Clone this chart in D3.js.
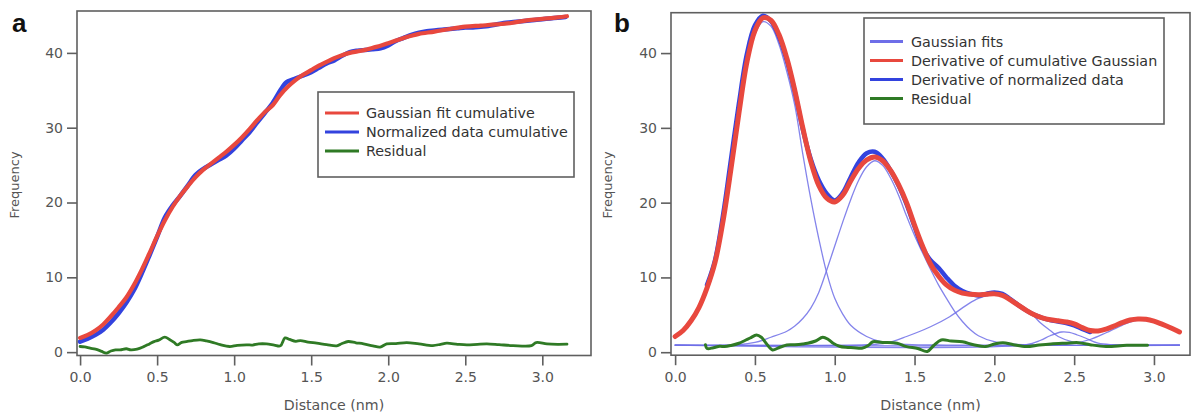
<!DOCTYPE html>
<html><head><meta charset="utf-8">
<script src="https://cdn.jsdelivr.net/npm/d3@7"></script>
<style>
html,body{margin:0;padding:0;background:#fff;}
svg{display:block;}
text{font-family:"DejaVu Sans",Verdana,sans-serif;}
</style></head>
<body>
<svg id="chart" width="1193" height="416"></svg>
<script>
// ---------- DATA ----------
const xTicks = [0.0, 0.5, 1.0, 1.5, 2.0, 2.5, 3.0];
const yTicks = [0, 10, 20, 30, 40];

// Panel a
const aFitX = [0.00,0.05,0.10,0.15,0.20,0.25,0.30,0.35,0.40,0.45,0.50,0.55,0.60,0.65,0.70,0.75,0.80,0.85,0.90,0.95,1.00,1.05,1.10,1.15,1.20,1.25,1.30,1.35,1.40,1.45,1.50,1.55,1.60,1.65,1.70,1.75,1.80,1.85,1.90,1.95,2.00,2.05,2.10,2.15,2.20,2.30,2.40,2.50,2.60,2.70,2.80,2.90,3.00,3.10,3.16];
const aFitY = [1.9,2.3,2.9,3.7,4.8,6.0,7.3,9.0,11.0,13.2,15.5,17.6,19.4,20.9,22.2,23.4,24.4,25.2,26.0,26.8,27.7,28.7,29.8,31.0,32.1,33.0,34.4,35.5,36.4,37.1,37.7,38.3,38.8,39.3,39.7,40.0,40.2,40.4,40.7,40.95,41.3,41.65,42.0,42.3,42.55,42.85,43.2,43.5,43.65,43.8,44.0,44.35,44.55,44.75,44.9];

const aDataX = [0.00,0.05,0.10,0.15,0.20,0.25,0.30,0.35,0.40,0.45,0.50,0.55,0.60,0.65,0.70,0.75,0.80,0.85,0.90,0.95,1.00,1.05,1.10,1.15,1.20,1.25,1.30,1.33,1.35,1.40,1.45,1.50,1.55,1.60,1.65,1.70,1.75,1.80,1.85,1.90,1.95,2.00,2.05,2.10,2.15,2.20,2.25,2.30,2.35,2.40,2.45,2.50,2.55,2.60,2.65,2.70,2.75,2.80,2.85,2.90,2.95,3.00,3.05,3.10,3.15];
const aDataY = [1.4,1.8,2.3,3.0,4.0,5.2,6.6,8.3,10.5,12.9,15.4,18.0,19.6,20.9,22.3,23.7,24.5,25.1,25.7,26.3,27.2,28.3,29.4,30.7,32.0,33.3,35.0,35.9,36.2,36.6,37.0,37.4,38.0,38.6,39.0,39.6,40.1,40.3,40.4,40.5,40.6,41.0,41.6,42.0,42.4,42.7,42.9,43.0,43.1,43.2,43.3,43.4,43.4,43.5,43.6,43.8,44.0,44.1,44.2,44.3,44.4,44.5,44.6,44.7,44.8];

const aResX = [0.00,0.03,0.065,0.10,0.14,0.17,0.20,0.23,0.26,0.30,0.33,0.37,0.41,0.45,0.48,0.51,0.55,0.58,0.61,0.63,0.66,0.69,0.73,0.78,0.82,0.865,0.91,0.97,1.02,1.08,1.12,1.16,1.21,1.26,1.30,1.33,1.36,1.40,1.43,1.48,1.536,1.60,1.666,1.70,1.74,1.79,1.84,1.90,1.947,1.99,2.05,2.12,2.20,2.29,2.34,2.38,2.45,2.51,2.58,2.64,2.72,2.81,2.93,2.96,3.03,3.10,3.16];
const aResY = [0.75,0.7,0.53,0.4,0.1,-0.13,0.15,0.3,0.3,0.45,0.3,0.4,0.7,1.1,1.4,1.6,2.0,1.7,1.3,0.97,1.3,1.4,1.55,1.64,1.5,1.28,1.0,0.75,0.9,0.97,0.95,1.1,1.1,0.95,0.84,1.9,1.7,1.45,1.55,1.35,1.2,1.0,0.84,1.15,1.42,1.25,1.1,0.85,0.67,1.1,1.15,1.28,1.1,0.88,1.05,1.2,1.05,0.97,1.05,1.1,1.0,0.88,0.88,1.28,1.1,1.05,1.07];

// Panel b
const bFitX = [0.00,0.05,0.10,0.15,0.20,0.25,0.30,0.35,0.40,0.45,0.50,0.55,0.60,0.65,0.70,0.75,0.80,0.85,0.90,0.95,1.00,1.05,1.10,1.15,1.20,1.25,1.30,1.35,1.40,1.45,1.50,1.55,1.60,1.65,1.70,1.75,1.80,1.85,1.90,1.95,2.00,2.05,2.10,2.15,2.20,2.25,2.30,2.35,2.40,2.45,2.50,2.55,2.60,2.65,2.70,2.75,2.80,2.85,2.90,2.95,3.00,3.05,3.10,3.16];
const bFitY = [2.1,2.9,4.2,6.0,8.6,12.0,17.5,24.5,32.0,38.8,43.0,44.7,44.4,42.5,39.3,35.0,30.0,25.5,22.3,20.6,20.1,21.0,22.9,24.6,25.7,26.1,25.6,24.3,22.4,20.0,17.0,14.2,11.8,10.2,9.0,8.3,7.9,7.75,7.7,7.75,7.8,7.6,7.0,6.3,5.6,5.0,4.6,4.35,4.2,4.05,3.8,3.3,2.9,2.85,3.1,3.5,3.95,4.3,4.45,4.4,4.15,3.75,3.3,2.7];

const bDataX = [0.20,0.25,0.30,0.35,0.40,0.45,0.50,0.55,0.60,0.65,0.70,0.75,0.80,0.85,0.90,0.95,1.00,1.05,1.10,1.15,1.20,1.25,1.30,1.35,1.40,1.45,1.50,1.55,1.60,1.65,1.70,1.75,1.80,1.85,1.90,1.95,2.00,2.05,2.10,2.15,2.20,2.25,2.30,2.35,2.40,2.45,2.50,2.55,2.60];
const bDataY = [9.0,12.3,18.3,25.8,33.3,39.9,43.7,45.0,44.3,42.2,39.0,34.8,29.8,25.8,23.0,21.2,20.3,21.3,23.4,25.4,26.6,26.8,25.9,24.3,22.3,19.8,16.8,14.0,12.3,11.3,10.0,8.9,8.2,7.8,7.6,7.8,8.0,7.8,7.1,6.3,5.6,5.0,4.6,4.3,4.1,3.9,3.6,3.1,2.7];

const g1X = [0,0.1,0.2,0.25,0.3,0.35,0.4,0.45,0.5,0.55,0.6,0.65,0.7,0.75,0.8,0.85,0.9,0.95,1.0,1.05,1.1,1.2,1.3,1.45,1.7,3.16];
const g1Y = [2.0,4.1,8.5,11.8,17.3,24.3,31.7,38.4,42.5,44.2,43.6,41.2,37.5,33.0,26.5,20.5,15.2,10.6,7.2,5.1,3.6,2.1,1.35,1.05,0.95,0.95];
const g2X = [0,0.4,0.5,0.6,0.7,0.75,0.8,0.85,0.9,0.95,1.0,1.05,1.1,1.15,1.2,1.25,1.3,1.35,1.4,1.45,1.5,1.55,1.6,1.65,1.7,1.75,1.8,1.85,1.9,2.0,2.1,3.16];
const g2Y = [0.95,1.0,1.3,2.0,2.8,3.5,4.5,5.9,8.0,11.0,14.2,17.4,20.4,23.0,24.8,25.6,25.0,23.3,21.0,18.2,15.6,13.3,11.1,9.0,7.2,5.5,4.1,3.0,2.2,1.4,1.1,0.95];
const g3X = [0,1.2,1.32,1.45,1.6,1.72,1.84,1.9,1.97,2.02,2.08,2.13,2.18,2.24,2.29,2.35,2.40,2.5,2.6,3.16];
const g3Y = [0.95,1.0,1.2,2.1,3.4,4.75,6.5,7.2,7.65,7.8,7.4,6.8,6.1,5.0,3.9,2.9,2.1,1.3,1.0,0.95];
const g4X = [0,2.2,2.29,2.35,2.42,2.47,2.52,2.57,2.65,2.75,3.16];
const g4Y = [0.95,1.0,1.6,2.2,2.7,2.65,2.3,1.9,1.2,1.0,0.95];
const g5X = [0,2.4,2.5,2.6,2.7,2.8,2.9,3.0,3.1,3.16];
const g5Y = [0.95,1.0,1.2,1.7,2.6,3.6,4.3,4.0,3.3,2.7];

const bResX = [0.19,0.20,0.24,0.28,0.31,0.35,0.40,0.44,0.47,0.51,0.54,0.57,0.61,0.65,0.70,0.75,0.80,0.83,0.88,0.925,0.96,0.99,1.03,1.07,1.12,1.17,1.21,1.24,1.30,1.39,1.45,1.52,1.58,1.62,1.667,1.73,1.80,1.87,1.946,2.00,2.054,2.12,2.20,2.28,2.355,2.44,2.527,2.60,2.70,2.83,2.96];
const bResY = [1.0,0.5,0.6,0.8,0.75,0.9,1.2,1.6,1.9,2.3,2.0,1.2,0.3,0.6,0.97,1.0,1.1,1.2,1.5,2.0,1.7,1.2,0.8,0.65,0.6,0.53,0.9,1.4,1.3,1.2,0.75,0.5,0.1,0.9,1.64,1.5,1.4,1.0,0.75,1.1,1.28,1.0,0.75,0.95,1.1,1.2,1.28,1.0,0.75,0.93,0.93];

const legendA = ["Gaussian fit cumulative","Normalized data cumulative","Residual"];
const legendB = ["Gaussian fits","Derivative of cumulative Gaussian","Derivative of normalized data","Residual"];

// ---------- STYLE ----------
const RED = "#e8483e", BLUE = "#3343de", GREEN = "#2f7a25", THIN = "#6e6ee8";
const AX = "#5f5f5f", TXT = "#555";

const svg = d3.select("#chart");
const zip = (xs, ys) => xs.map((x,i)=>[x, ys[i]]);

function panel(cfg){
  const x = d3.scaleLinear().domain(cfg.xd).range(cfg.xr);
  const y = d3.scaleLinear().domain(cfg.yd).range(cfg.yr);
  const g = svg.append("g");
  g.append("rect").attr("x", cfg.xr[0]).attr("y", cfg.yr[1])
    .attr("width", cfg.xr[1]-cfg.xr[0]).attr("height", cfg.yr[0]-cfg.yr[1])
    .attr("fill","none").attr("stroke",AX).attr("stroke-width",1.6);
  const yAx = g.append("g").attr("transform",`translate(${cfg.xr[0]},0)`)
    .call(d3.axisLeft(y).tickValues(yTicks).tickSize(10).tickPadding(4).tickFormat(d3.format("d")));
  const xAx = g.append("g").attr("transform",`translate(0,${cfg.yr[0]})`)
    .call(d3.axisBottom(x).tickValues(xTicks).tickSize(10).tickPadding(7).tickFormat(d3.format(".1f")));
  [yAx,xAx].forEach(a=>{
    a.select(".domain").remove();
    a.selectAll(".tick line").attr("stroke",AX).attr("stroke-width",1.6);
    a.selectAll(".tick text").attr("fill",TXT).style("font-size","14px").style("font-family","'DejaVu Sans',sans-serif");
  });
  g.append("text").attr("x",(cfg.xr[0]+cfg.xr[1])/2).attr("y",410)
    .attr("text-anchor","middle").attr("fill",TXT).style("font-size","14.2px").text("Distance (nm)");
  g.append("text").attr("transform",`translate(${cfg.ylabX},185) rotate(-90)`)
    .attr("text-anchor","middle").attr("fill",TXT).style("font-size","13px").text("Frequency");
  g.append("text").attr("x",cfg.letterX).attr("y",32)
    .style("font-family","'Liberation Sans',Arial,sans-serif").style("font-weight","bold")
    .style("font-size","26px").attr("fill","#111").text(cfg.letter);
  const clipId = "clip"+cfg.letter;
  g.append("clipPath").attr("id",clipId).append("rect")
    .attr("x",cfg.xr[0]).attr("y",cfg.yr[1]).attr("width",cfg.xr[1]-cfg.xr[0]).attr("height",cfg.yr[0]-cfg.yr[1]);
  const plot = g.append("g").attr("clip-path",`url(#${clipId})`);
  return {x,y,g,plot};
}

function drawLine(p, pts, color, w, curve, op){
  const line = d3.line().x(d=>p.x(d[0])).y(d=>p.y(d[1])).curve(curve||d3.curveCatmullRom.alpha(0.5));
  p.plot.append("path").datum(pts).attr("d",line).attr("fill","none")
    .attr("stroke",color).attr("stroke-width",w).attr("stroke-linejoin","round").attr("stroke-linecap","round")
    .attr("opacity", op==null?1:op);
}

function legend(g, x0, y0, w, h, items, colors, rowY, sx0, sx1, tx){
  g.append("rect").attr("x",x0).attr("y",y0).attr("width",w).attr("height",h)
    .attr("fill","#fff").attr("stroke",AX).attr("stroke-width",1.6);
  items.forEach((t,i)=>{
    const yy = rowY + i*19;
    g.append("line").attr("x1",sx0).attr("x2",sx1).attr("y1",yy).attr("y2",yy)
      .attr("stroke",colors[i]).attr("stroke-width",3);
    g.append("text").attr("x",tx).attr("y",yy).attr("dy","0.35em")
      .attr("fill","#333").style("font-size","14.3px").text(t);
  });
}

// Panel a
const pa = panel({xd:[-0.02,3.316], xr:[77,591], yd:[-0.45,45.6], yr:[355.5,11], ylabX:19, letterX:12, letter:"a"});
drawLine(pa, zip(aDataX,aDataY), BLUE, 4.5);
drawLine(pa, zip(aFitX,aFitY), RED, 4.2);
drawLine(pa, zip(aResX,aResY), GREEN, 2.8);
legend(pa.g, 318, 92, 256, 85, legendA, [RED,BLUE,GREEN], 113, 325, 359, 366);

// Panel b
const pb = panel({xd:[-0.0258,3.2258], xr:[671,1190], yd:[-0.4,45.4], yr:[355.2,12.7], ylabX:612, letterX:614, letter:"b"});
[[g1X,g1Y],[g2X,g2Y],[g3X,g3Y],[g4X,g4Y],[g5X,g5Y]].forEach(([xs,ys])=>drawLine(pb, zip(xs,ys), THIN, 1.3, null, 0.85));
drawLine(pb, zip(bDataX,bDataY), BLUE, 4.5);
drawLine(pb, zip(bFitX,bFitY), RED, 5);
drawLine(pb, zip(bResX,bResY), GREEN, 3);
legend(pb.g, 864, 18, 300, 106, legendB, [THIN,RED,BLUE,GREEN], 41.5, 870, 903, 911);
</script>
</body></html>
